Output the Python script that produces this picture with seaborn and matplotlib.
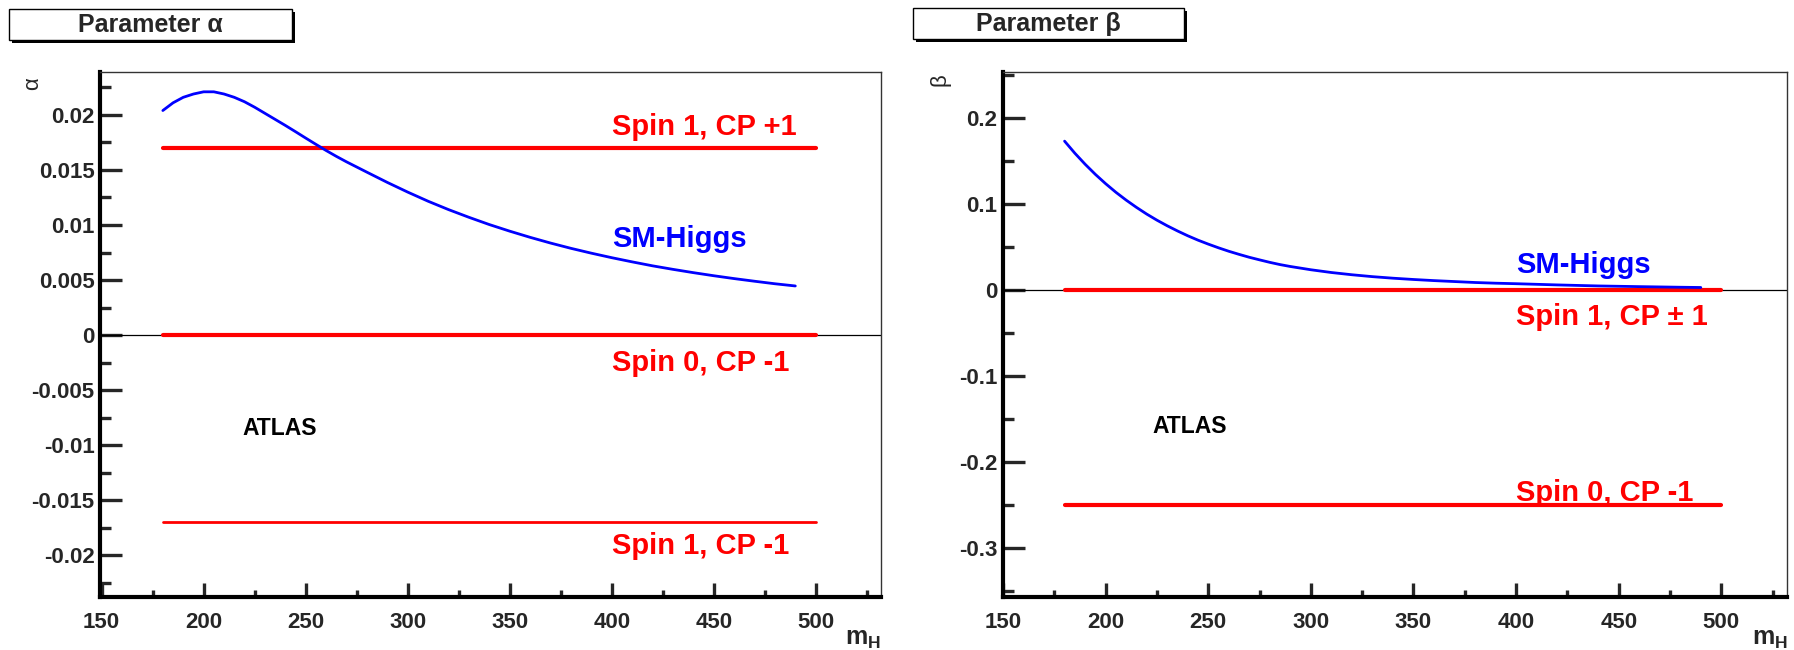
import matplotlib
matplotlib.use('Agg')
import matplotlib.pyplot as plt
from matplotlib.patches import Rectangle
from matplotlib.ticker import FixedLocator, MultipleLocator
import seaborn as sns

sns.set_style('white')
plt.rcParams['font.family'] = ['Liberation Sans', 'DejaVu Sans']
plt.rcParams['font.weight'] = 'bold'
plt.rcParams['mathtext.fontset'] = 'custom'
plt.rcParams['mathtext.rm'] = 'Liberation Sans:bold'
plt.rcParams['mathtext.bf'] = 'Liberation Sans:bold'

# SM-Higgs curves
mh_a = [180, 185, 190, 195, 200, 205, 210, 215, 220, 225, 230, 235, 240, 245,
        250, 255, 260, 265, 270, 280, 290, 300, 310, 320, 330, 340, 350, 360,
        370, 380, 390, 400, 410, 420, 430, 440, 450, 460, 470, 480, 490]
alpha_sm = [0.0204, 0.0211, 0.0216, 0.0219, 0.0221, 0.0221, 0.0219, 0.0216,
            0.0212, 0.0207, 0.02015, 0.0196, 0.01905, 0.01848, 0.0179, 0.01733,
            0.01677, 0.01624, 0.01574, 0.01480, 0.01387, 0.01299, 0.01216,
            0.01140, 0.01070, 0.01004, 0.00944, 0.00888, 0.00836, 0.00788,
            0.00744, 0.00703, 0.00665, 0.00629, 0.00597, 0.00567, 0.00539,
            0.00513, 0.00489, 0.00466, 0.00446]

mh_b = [180, 185, 190, 195, 200, 205, 210, 215, 220, 225, 230, 235, 240, 245,
        250, 255, 260, 265, 270, 275, 280, 285, 290, 300, 310, 320, 330, 340,
        350, 360, 370, 380, 390, 400, 420, 440, 460, 480, 490]
beta_sm = [0.173, 0.159, 0.1462, 0.1344, 0.1236, 0.1136, 0.1045, 0.0961,
           0.0883, 0.0812, 0.0747, 0.0687, 0.0631, 0.058, 0.0534, 0.0491,
           0.0451, 0.0415, 0.0381, 0.0351, 0.0322, 0.0296, 0.0274, 0.0236,
           0.0204, 0.0178, 0.0156, 0.0138, 0.0123, 0.011, 0.0099, 0.0088,
           0.008, 0.0074, 0.006, 0.0048, 0.004, 0.0033, 0.003]

# spin hypotheses (constant lines from 180 to 500)
line_x = [180, 500]
alpha_spin = {'Spin 1, CP +1': 0.017, 'Spin 0, CP -1': 0.0, 'Spin 1, CP -1': -0.017}
beta_spin = {'Spin 1, CP \u00b1 1': 0.0, 'Spin 0, CP -1': -0.25}

xticks = [150, 200, 250, 300, 350, 400, 450, 500]
alpha_ticks = [0.02, 0.015, 0.01, 0.005, 0, -0.005, -0.01, -0.015, -0.02]
alpha_labels = ['0.02', '0.015', '0.01', '0.005', '0', '-0.005', '-0.01', '-0.015', '-0.02']
beta_ticks = [0.2, 0.1, 0, -0.1, -0.2, -0.3]
beta_labels = ['0.2', '0.1', '0', '-0.1', '-0.2', '-0.3']

W, H = 1794, 650
fig = plt.figure(figsize=(W / 100, H / 100), dpi=100)
ax1 = fig.add_axes([100 / W, 1 - 597 / H, 781 / W, 525 / H])
ax2 = fig.add_axes([1003 / W, 1 - 597 / H, 784 / W, 525 / H])


def style_axis(ax, yt, ylab, yminor):
    ax.set_xlim(149.2, 532)
    ax.xaxis.set_major_locator(FixedLocator(xticks))
    ax.set_xticklabels([str(t) for t in xticks])
    ax.xaxis.set_minor_locator(MultipleLocator(25))
    ax.yaxis.set_major_locator(FixedLocator(yt))
    ax.set_yticklabels(ylab)
    ax.yaxis.set_minor_locator(MultipleLocator(yminor))
    ax.tick_params(axis='y', which='major', direction='in', length=16, width=2.4,
                   labelsize=16, pad=4, left=True, right=False)
    ax.tick_params(axis='y', which='minor', direction='in', length=8, width=2.4,
                   left=True, right=False)
    ax.tick_params(axis='x', which='major', direction='in', length=10, width=2.4,
                   labelsize=16, pad=11, bottom=True, top=False)
    ax.tick_params(axis='x', which='minor', direction='in', length=5, width=2.4,
                   bottom=True, top=False)
    for s in ['left', 'bottom']:
        ax.spines[s].set_linewidth(3)
        ax.spines[s].set_color('black')
    for s in ['top', 'right']:
        ax.spines[s].set_linewidth(1)
        ax.spines[s].set_color('#333333')
    ax.set_xlabel('')
    ax.set_ylabel('')
    ax.axhline(0, color='black', lw=0.9, zorder=1)


# left panel: alpha
sns.lineplot(x=mh_a, y=alpha_sm, ax=ax1, color='blue', lw=2.0, zorder=3)
for name, val in alpha_spin.items():
    lw = 2.0 if val < 0 else 3.0
    sns.lineplot(x=line_x, y=[val, val], ax=ax1, color='red', lw=lw, zorder=2)
style_axis(ax1, alpha_ticks, alpha_labels, 0.0025)
ax1.set_ylim(-0.0238, 0.0239)
ax1.text(400, 0.0182, 'Spin 1, CP +1', color='red', fontsize=21, va='baseline')
ax1.text(400, 0.0080, 'SM-Higgs', color='blue', fontsize=21, va='baseline')
ax1.text(400, -0.0033, 'Spin 0, CP -1', color='red', fontsize=21, va='baseline')
ax1.text(400, -0.0199, 'Spin 1, CP -1', color='red', fontsize=21, va='baseline')
ax1.text(219, -0.0091, 'ATLAS', color='black', fontsize=16.5, va='baseline')

# right panel: beta
sns.lineplot(x=mh_b, y=beta_sm, ax=ax2, color='blue', lw=2.0, zorder=3)
for name, val in beta_spin.items():
    sns.lineplot(x=line_x, y=[val, val], ax=ax2, color='red', lw=3.0, zorder=2)
style_axis(ax2, beta_ticks, beta_labels, 0.05)
ax2.set_xlim(150, 532)
ax2.set_ylim(-0.3565, 0.2533)
ax2.text(400, 0.0197, 'SM-Higgs', color='blue', fontsize=21, va='baseline')
ax2.text(400, -0.041, 'Spin 1, CP \u00b1 1', color='red', fontsize=21, va='baseline')
ax2.text(400, -0.2445, 'Spin 0, CP -1', color='red', fontsize=21, va='baseline')
ax2.text(223, -0.1665, 'ATLAS', color='black', fontsize=16.5, va='baseline')

# title boxes with shadow (ROOT style)
for (x0, y0, w, h, txt) in [(9, 9, 283, 31, 'Parameter \u03b1'),
                            (913, 8, 271, 31, 'Parameter \u03b2')]:
    fig.add_artist(Rectangle(((x0 + 3) / W, 1 - (y0 + h + 3) / H), w / W, h / H,
                             transform=fig.transFigure, facecolor='black',
                             edgecolor='black', lw=0))
    fig.add_artist(Rectangle((x0 / W, 1 - (y0 + h) / H), w / W, h / H,
                             transform=fig.transFigure, facecolor='white',
                             edgecolor='black', lw=1))
    fig.text((x0 + w / 2) / W, 1 - (y0 + h / 2 + 1) / H, txt, fontsize=18,
             ha='center', va='center')

# axis titles
fig.text(33 / W, 1 - 84 / H, '\u03b1', fontsize=16, fontweight='normal',
         rotation=90, ha='center', va='center')
fig.text(940 / W, 1 - 80 / H, '\u03b2', fontsize=16, fontweight='normal',
         rotation=90, ha='center', va='center')
fig.text(881 / W, 1 - 645 / H, r'm$_{\mathrm{H}}$', fontsize=18, ha='right', va='baseline')
fig.text(1788 / W, 1 - 645 / H, r'm$_{\mathrm{H}}$', fontsize=18, ha='right', va='baseline')

fig.savefig('out.png', dpi=100)
